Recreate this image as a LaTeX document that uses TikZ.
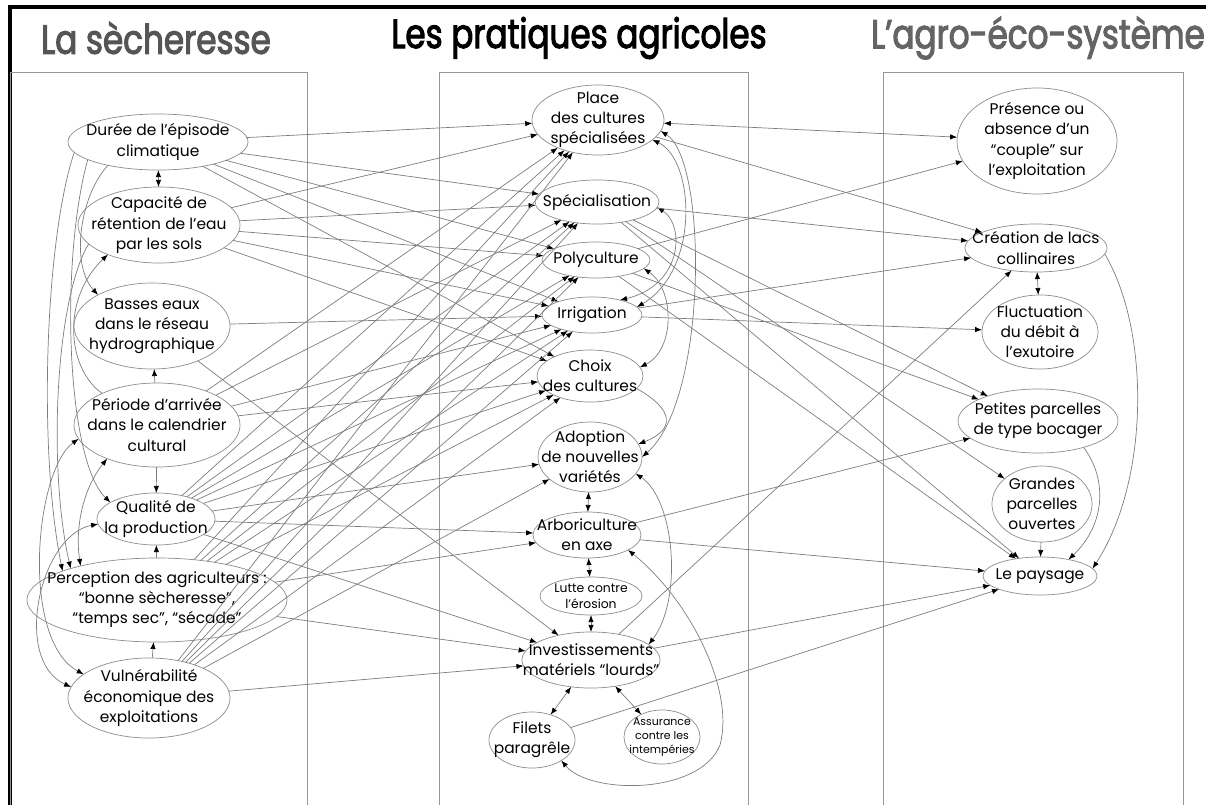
\documentclass[tikz,border=0pt]{standalone}
\usepackage{fontspec}
\setmainfont{Poppins}
\newfontfamily\PoliceTitre[FakeStretch=0.8, FakeBold=2.5]{Poppins}
\usetikzlibrary{shapes.geometric,arrows.meta}

\begin{document}
\begin{tikzpicture}[
    x=0.025cm, y=-0.025cm,
    bulle/.style 2 args={ellipse, draw=MauBord, line width=0.5pt,
        inner xsep=-80pt, inner ysep=-40pt, outer sep=0pt,
        minimum width=#1*0.05cm, minimum height=#2*0.05cm,
        align=center, font=\fontsize{11}{14.3}\selectfont},
    petit/.style={font=\fontsize{8.8}{11.2}\selectfont},
    lien/.style={MauLien, line width=0.5pt, -{Latex[length=5pt,width=3.8pt,color=black]}},
    liens/.style={lien, {Latex[length=5pt,width=3.8pt,color=black]}-{Latex[length=5pt,width=3.8pt,color=black]}},
    titre/.style={font=\PoliceTitre\fontsize{29}{34}\selectfont}
  ]
  % ===== COULEURS =====
  \definecolor{MauLien}{RGB}{125,125,125}
  \definecolor{MauBord}{RGB}{140,140,140}
  \definecolor{MauCadre}{RGB}{150,150,150}
  \definecolor{MauTitreG}{RGB}{85,85,85}
  \definecolor{MauTitreD}{RGB}{100,100,100}

  \useasboundingbox (0,0) rectangle (1206,805);

  % ===== CADRES =====
  \draw[line width=2.2pt] (10,805) -- (10,7) -- (1206,7);
  \draw[MauCadre, line width=0.6pt] (10,805) |- (307,72) -- (307,805);
  \draw[MauCadre, line width=0.6pt] (439,805) |- (748,72) -- (748,805);
  \draw[MauCadre, line width=0.6pt] (883,805) |- (1183,72) -- (1183,805);

  % ===== TITRES =====
  \node[titre, text=MauTitreG] (titreA) at (156,38) {La sècheresse};
  \node[titre] (titreB) at (579,38) {Les pratiques agricoles};
  \node[titre, text=MauTitreD] (titreC) at (1038,38) {L’agro-éco-système};

  % ===== LA SECHERESSE =====
  \node[bulle={90}{28}] (duree) at (158,142) {Durée de l’épisode\\climatique};
  \node[bulle={81}{38}] (capacite) at (159,225) {Capacité de\\rétention de l’eau\\par les sols};
  \node[bulle={78}{43}] (basses) at (152,326) {Basses eaux\\dans le réseau\\hydrographique};
  \node[bulle={83}{42}] (periode) at (157,425) {Période d’arrivée\\dans le calendrier\\cultural};
  \node[bulle={59}{26}] (qualite) at (156,519) {Qualité de\\la production};
  \node[bulle={130}{42}] (perception) at (157,600) {Perception des agriculteurs :\\“bonne sècheresse”,\\“temps sec”, “sécade”};
  \node[bulle={81}{40}] (vulne) at (149,698) {Vulnérabilité\\économique des\\exploitations};

  % ===== LES PRATIQUES AGRICOLES =====
  \node[bulle={66}{35}] (place) at (598,120) {Place\\des cultures\\spécialisées};
  \node[bulle={62}{22}] (specia) at (597,202) {Spécialisation};
  \node[bulle={54}{18}] (poly) at (596,260) {Polyculture};
  \node[bulle={50}{18}] (irrig) at (592,315) {Irrigation};
  \node[bulle={53}{26}] (choix) at (590,376) {Choix\\des cultures};
  \node[bulle={52}{35}] (adopt) at (590,457) {Adoption\\de nouvelles\\variétés};
  \node[bulle={54}{23}] (arbo) at (587,535) {Arboriculture\\en axe};
  \node[bulle={51}{19}, petit] (lutte) at (591,596) {Lutte contre\\l’érosion};
  \node[bulle={69}{28}] (invest) at (591,660) {Investissements\\matériels “lourds”};
  \node[bulle={43}{28}] (filets) at (532,740) {Filets\\paragrêle};
  \node[bulle={38}{27}, font=\fontsize{7.8}{10.2}\selectfont] (assur) at (662,737) {Assurance\\contre les\\intempéries};

  % ===== L'AGRO-ECO-SYSTEME =====
  \node[bulle={80}{53}] (presence) at (1037,141) {Présence ou\\absence d’un\\“couple” sur\\l’exploitation};
  \node[bulle={71}{24}] (lacs) at (1036,248) {Création de lacs\\collinaires};
  \node[bulle={58}{37}] (fluct) at (1040,332) {Fluctuation\\du débit à\\l’exutoire};
  \node[bulle={80}{32}] (petites) at (1038,421) {Petites parcelles\\de type bocager};
  \node[bulle={50}{38}] (grandes) at (1042,504) {Grandes\\parcelles\\ouvertes};
  \node[bulle={57}{19}] (paysage) at (1040,576) {Le paysage};

  % ===== LIENS DANS LA SECHERESSE =====
  \draw[liens] (duree) -- (capacite);
  \draw[lien] (periode) -- (basses);
  \draw[lien] (periode) -- (qualite);
  \draw[lien] (perception) -- (qualite);
  \draw[lien] (vulne) -- (perception);
  \draw[lien] (duree.187) .. controls (45,240) and (38,450) .. (perception.163);
  \draw[lien] (duree.194) .. controls (60,260) and (66,460) .. (qualite.160);
  \draw[lien] (duree.205) .. controls (80,195) and (70,265) .. (basses.150);
  \draw[lien] (capacite.195) .. controls (55,300) and (48,470) .. (perception.160);
  \draw[lien] (periode.150) .. controls (68,370) and (60,300) .. (capacite.210);
  \draw[liens] (periode.214) .. controls (82,490) and (75,530) .. (perception.156);
  \draw[liens] (periode.190) .. controls (35,470) and (20,640) .. (vulne.160);
  \draw[liens] (qualite.185) .. controls (40,535) and (12,660) .. (vulne.172);

  % ===== VERS LES PRATIQUES =====
  \foreach \a/\b in {duree/place, duree/specia, duree/poly, duree/irrig, duree/choix,
      capacite/place, capacite/specia, capacite/poly, capacite/irrig, capacite/choix,
      basses/irrig, basses/invest,
      periode/place, periode/specia, periode/irrig, periode/choix,
      qualite/place, qualite/specia, qualite/poly, qualite/irrig, qualite/choix,
      qualite/adopt, qualite/arbo, qualite/invest,
      perception/place, perception/specia, perception/poly, perception/irrig,
      perception/choix, perception/arbo, perception/invest,
      vulne/place, vulne/specia, vulne/poly, vulne/irrig, vulne/choix,
      vulne/adopt, vulne/invest}
    \draw[lien] (\a) -- (\b);

  % ===== LIENS DANS LES PRATIQUES =====
  \foreach \a/\b in {adopt/arbo, arbo/lutte, lutte/invest, invest/filets, invest/assur}
    \draw[liens] (\a) -- (\b);
  \draw[liens] (place.340) .. controls (695,160) and (700,270) .. (irrig.10);
  \draw[liens] (specia.355) .. controls (685,225) and (683,285) .. (irrig.28);
  \draw[liens] (place.350) .. controls (708,160) and (708,400) .. (adopt.0);
  \draw[liens] (poly.350) .. controls (675,290) and (675,350) .. (choix.10);
  \draw[lien] (choix.345) .. controls (675,410) and (675,430) .. (adopt.15);
  \draw[liens] (adopt.340) .. controls (675,500) and (683,600) .. (invest.15);
  \draw[liens] (arbo.340) .. controls (690,600) and (735,690) .. (720,745)
    .. controls (700,795) and (590,795) .. (filets.325);

  % ===== VERS L'AGRO-ECO-SYSTEME =====
  \draw[liens] (place) -- (presence);
  \foreach \a/\b in {place/lacs, specia/lacs, specia/petites, specia/grandes, specia/paysage,
      poly/presence, poly/petites, poly/paysage, irrig/lacs, irrig/fluct,
      arbo/petites, arbo/paysage, invest/lacs, invest/paysage, filets/paysage}
    \draw[lien] (\a) -- (\b);

  % ===== LIENS DANS L'AGRO-ECO-SYSTEME =====
  \draw[liens] (lacs) -- (fluct);
  \draw[lien] (grandes) -- (paysage);
  \draw[lien] (petites.330) .. controls (1108,480) and (1105,525) .. (paysage.30);
  \draw[lien] (lacs.355) .. controls (1150,330) and (1150,480) .. (paysage.8);

\end{tikzpicture}
\end{document}
